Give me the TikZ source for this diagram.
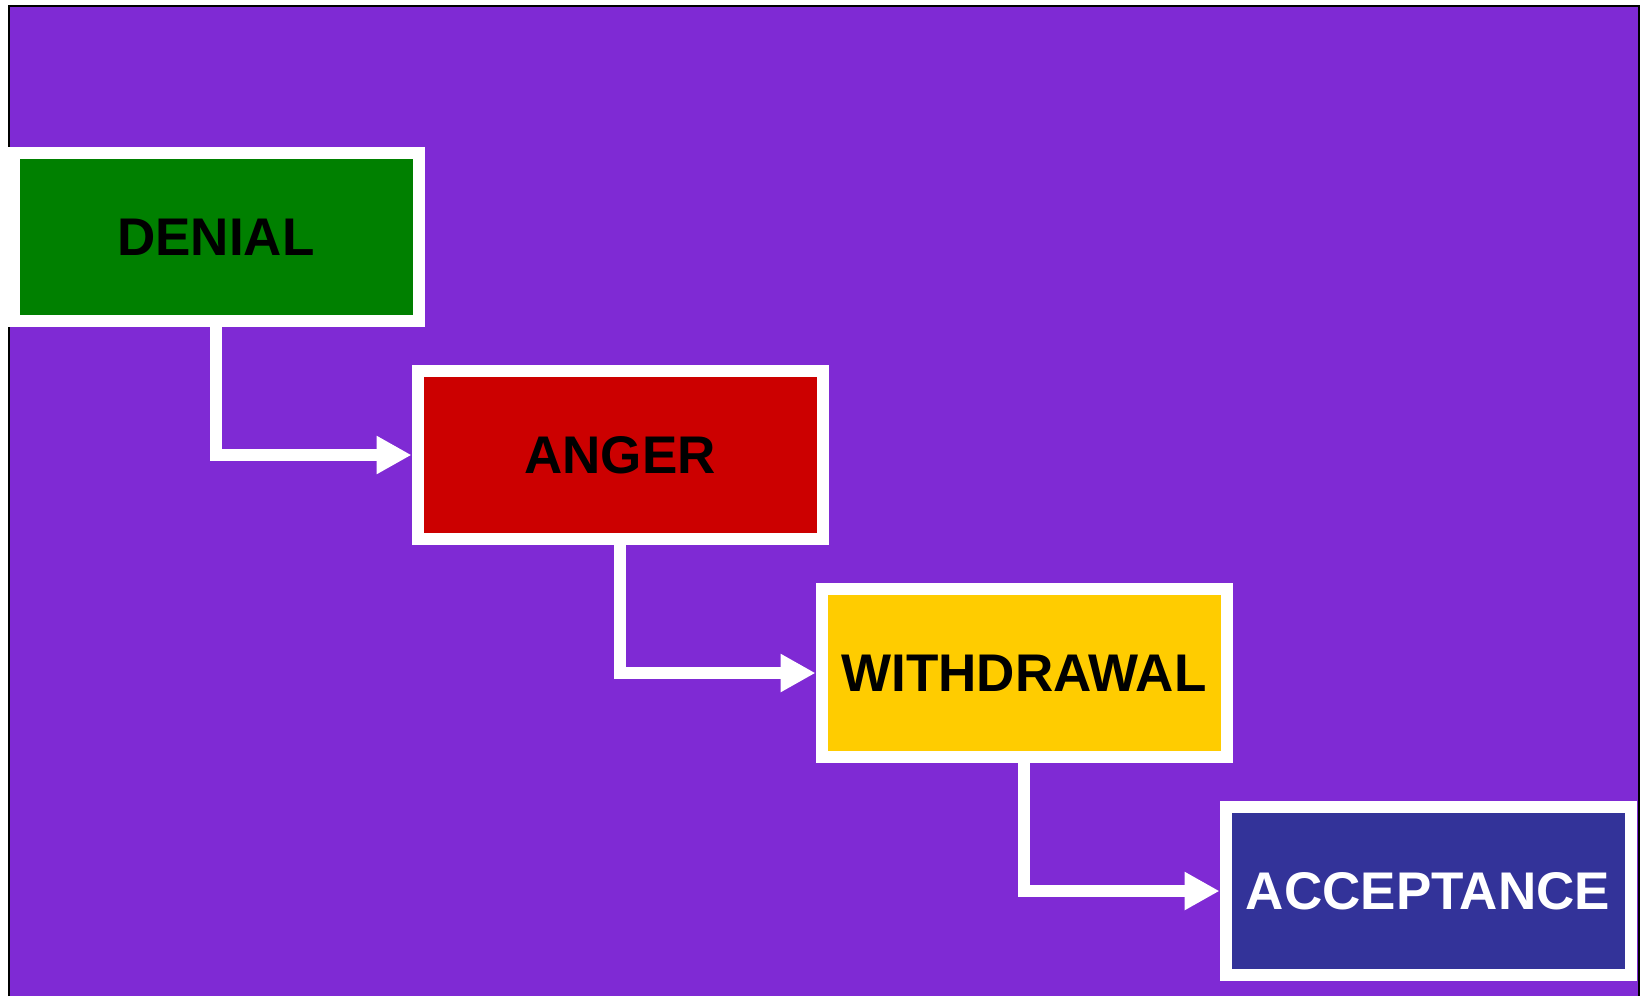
\documentclass[tikz,border=0pt]{standalone}
\usepackage{fontspec}
\setmainfont{Liberation Sans}
\usetikzlibrary{arrows.meta,positioning}
\definecolor{bgpurple}{RGB}{127,42,212}
\definecolor{denialgreen}{RGB}{0,128,0}
\definecolor{angerred}{RGB}{204,0,0}
\definecolor{withdrawyellow}{RGB}{255,204,0}
\definecolor{acceptblue}{RGB}{51,51,153}

\begin{document}
\begin{tikzpicture}[
    font=\fontsize{26.5pt}{30pt}\selectfont\bfseries,
    stage/.style={draw=white, line width=6pt, minimum width=202.5pt, minimum height=84pt, inner sep=0pt},
    stepdown/.style={right=-6.5pt of #1.east, yshift=-109pt},
    flow/.style={white, line width=6pt, -{Triangle[length=17.5pt, width=18pt]}}
  ]
  \useasboundingbox (0,0) rectangle (820.5pt,-498pt);

  % Background panel
  \fill[bgpurple] (4.5pt,-3pt) rectangle (819.5pt,-498pt);
  \draw[line width=1pt] (4.5pt,-498pt) -- (4.5pt,-3pt) -- (819.5pt,-3pt) -- (819.5pt,-498pt);

  % Stages, stepping down to the right
  \node[stage, fill=denialgreen] (denial) at (108pt,-118.5pt) {DENIAL};
  \node[stage, fill=angerred, stepdown=denial] (anger) {ANGER};
  \node[stage, fill=withdrawyellow, stepdown=anger] (withdrawal) {WITHDRAWAL};
  \node[stage, fill=acceptblue, text=white, stepdown=withdrawal] (acceptance) {ACCEPTANCE};

  % Connectors
  \draw[flow] (denial.south) |- (anger.west);
  \draw[flow] (anger.south) |- (withdrawal.west);
  \draw[flow] (withdrawal.south) |- (acceptance.west);

\end{tikzpicture}
\end{document}
